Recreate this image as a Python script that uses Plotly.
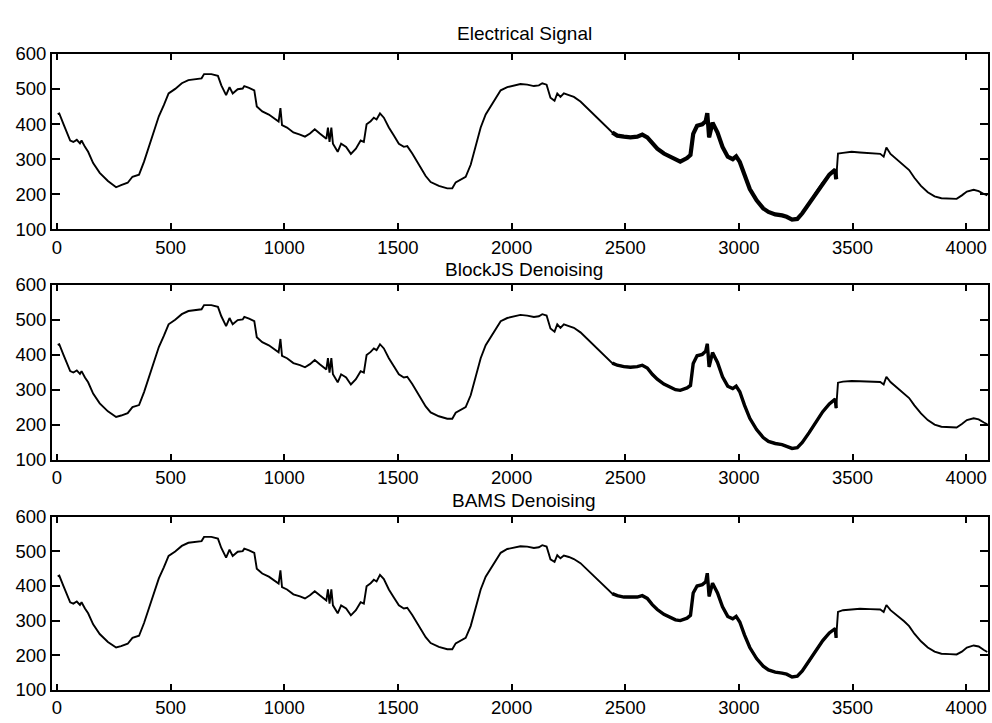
import plotly.graph_objects as go

# ---------------- data ----------------
titles = ["Electrical Signal", "BlockJS Denoising", "BAMS Denoising"]

x_tick_vals = [0, 500, 1000, 1500, 2000, 2500, 3000, 3500, 4000]
y_tick_vals = [100, 200, 300, 400, 500, 600]

sample_x = [
    3, 10, 29, 45, 58, 72, 87, 101, 108, 123, 137, 159, 188, 224, 260, 282, 311, 332, 361, 383,
    405, 426, 448, 470, 491, 520, 549, 578, 607, 636, 647, 679, 708, 723, 744, 759, 773, 795, 817, 824,
    845, 868, 879, 903, 932, 954, 975, 983, 990, 1012, 1040, 1069, 1091, 1113, 1134, 1156, 1185, 1192, 1199, 1207,
    1214, 1235, 1250, 1272, 1293, 1315, 1336, 1350, 1362, 1380, 1394, 1406, 1421, 1438, 1460, 1482, 1504, 1526, 1541, 1563,
    1592, 1622, 1644, 1680, 1717, 1739, 1754, 1776, 1798, 1820, 1842, 1864, 1886, 1908, 1930, 1952, 1981, 2010, 2039, 2069,
    2098, 2120, 2135, 2154, 2171, 2189, 2201, 2215, 2230, 2252, 2274, 2303, 2333, 2362, 2391, 2418, 2443, 2465, 2494, 2523,
    2553, 2575, 2597, 2619, 2641, 2670, 2699, 2721, 2742, 2772, 2787, 2799, 2816, 2839, 2854, 2861, 2869, 2884, 2906, 2928,
    2951, 2973, 2988, 3004, 3025, 3048, 3078, 3107, 3130, 3160, 3190, 3210, 3234, 3257, 3279, 3309, 3339, 3369, 3398, 3424,
    3428, 3436, 3458, 3496, 3533, 3578, 3622, 3637, 3649, 3667, 3697, 3727, 3749, 3772, 3801, 3831, 3861, 3891, 3928, 3958,
    3981, 4003, 4033, 4055, 4078, 4093,
]

electrical = [
    428, 430, 399, 375, 353, 349, 355, 345, 353, 335, 321, 289, 261, 238, 220, 226, 233, 250, 256, 293,
    335, 376, 422, 454, 487, 500, 516, 525, 528, 530, 542, 542, 537, 510, 482, 505, 487, 499, 501, 508,
    503, 496, 450, 436, 427, 418, 407, 445, 397, 390, 376, 370, 364, 373, 385, 373, 358, 390, 349, 390,
    344, 321, 344, 335, 315, 330, 353, 349, 399, 408, 418, 413, 430, 418, 390, 367, 344, 335, 337, 316,
    284, 252, 235, 224, 217, 217, 234, 243, 250, 284, 335, 390, 427, 450, 477, 496, 505, 510, 514, 512,
    508, 510, 516, 512, 475, 466, 487, 477, 487, 482, 477, 464, 445, 427, 408, 390, 376, 367, 364, 362,
    364, 370, 362, 344, 330, 316, 307, 298, 293, 303, 312, 372, 395, 399, 408, 431, 362, 404, 376, 335,
    307, 300, 308, 292, 252, 215, 183, 160, 150, 143, 140, 136, 128, 130, 146, 174, 206, 234, 256, 270,
    243, 316, 318, 321, 319, 318, 315, 307, 333, 315, 298, 281, 269, 247, 224, 206, 194, 189, 189, 187,
    197, 208, 213, 209, 201, 197,
]

blockjs = [
    428, 430, 399, 375, 353, 349, 355, 345, 353, 335, 321, 289, 261, 238, 222, 226, 233, 250, 256, 293,
    335, 376, 422, 454, 487, 500, 516, 525, 528, 530, 542, 542, 537, 510, 482, 505, 487, 499, 501, 508,
    503, 496, 450, 436, 427, 418, 407, 445, 397, 390, 376, 370, 364, 373, 385, 373, 358, 390, 349, 390,
    344, 321, 344, 335, 315, 330, 353, 349, 399, 408, 418, 413, 430, 418, 390, 367, 344, 335, 337, 316,
    284, 252, 235, 224, 217, 217, 234, 243, 250, 284, 335, 390, 427, 450, 477, 496, 505, 510, 514, 512,
    508, 510, 516, 512, 475, 466, 487, 477, 487, 482, 477, 464, 445, 427, 408, 390, 376, 370, 366, 364,
    366, 370, 362, 344, 330, 316, 307, 300, 298, 305, 312, 375, 397, 401, 410, 431, 365, 406, 378, 337,
    310, 303, 310, 294, 255, 218, 186, 163, 152, 146, 143, 139, 132, 134, 149, 177, 209, 237, 259, 273,
    247, 320, 323, 325, 324, 323, 322, 315, 337, 322, 305, 288, 276, 255, 232, 213, 200, 194, 193, 192,
    202, 213, 218, 215, 206, 201,
]

bams = [
    428, 430, 399, 375, 353, 349, 355, 345, 353, 335, 321, 289, 261, 238, 222, 226, 233, 250, 256, 293,
    335, 376, 422, 454, 487, 500, 516, 525, 528, 530, 542, 542, 537, 510, 482, 505, 487, 499, 501, 508,
    503, 496, 450, 436, 427, 418, 407, 445, 397, 390, 376, 370, 364, 373, 385, 373, 358, 390, 349, 390,
    344, 321, 344, 335, 315, 330, 353, 349, 399, 408, 418, 413, 432, 420, 390, 367, 344, 335, 337, 316,
    284, 252, 235, 224, 217, 217, 234, 243, 250, 284, 335, 390, 427, 450, 477, 496, 507, 512, 515, 514,
    510, 512, 518, 514, 477, 470, 489, 480, 488, 484, 478, 466, 447, 429, 410, 392, 378, 372, 368, 367,
    368, 372, 364, 346, 332, 318, 309, 302, 300, 307, 315, 380, 400, 404, 412, 437, 370, 408, 380, 340,
    312, 305, 312, 296, 258, 222, 190, 168, 157, 151, 148, 145, 137, 139, 154, 182, 214, 242, 264, 277,
    250, 325, 330, 333, 334, 333, 332, 325, 345, 330, 315, 298, 284, 262, 240, 222, 210, 204, 203, 202,
    210, 222, 228, 225, 215, 209,
]

series = [electrical, blockjs, bams]
# sample ranges drawn with the heavier (noisy) stroke in each panel
noisy_from = [2430, 2440, 2440]
noisy_to = [3430, 3430, 3430]
noisy_width = [4.2, 3.4, 3.4]

# ---------------- figure ----------------
W, H = 992, 723
panels_px = [(44, 225), (282, 462), (521, 699)]  # top, bottom pixel rows of each plot area
title_px = [23, 266, 504]

fig = go.Figure()
font_family = "Liberation Sans, Arial, Helvetica, sans-serif"
tick_size = 18.5
title_size = 19

for i, ys in enumerate(series):
    xa = "x" if i == 0 else f"x{i+1}"
    ya = "y" if i == 0 else f"y{i+1}"
    fig.add_trace(go.Scatter(x=sample_x, y=ys, mode="lines",
                             line=dict(color="black", width=1.9),
                             xaxis=xa, yaxis=ya, showlegend=False, hoverinfo="skip"))
    nx = [xv for xv in sample_x if noisy_from[i] <= xv <= noisy_to[i]]
    ny = [yv for xv, yv in zip(sample_x, ys) if noisy_from[i] <= xv <= noisy_to[i]]
    fig.add_trace(go.Scatter(x=nx, y=ny, mode="lines",
                             line=dict(color="black", width=noisy_width[i]),
                             xaxis=xa, yaxis=ya, showlegend=False, hoverinfo="skip"))

layout = dict(
    width=W, height=H,
    margin=dict(l=52, r=4, t=0, b=0),
    paper_bgcolor="white", plot_bgcolor="white",
    font=dict(family=font_family, size=tick_size, color="black"),
    showlegend=False,
)

for i, (top, bot) in enumerate(panels_px):
    xk = "xaxis" if i == 0 else f"xaxis{i+1}"
    yk = "yaxis" if i == 0 else f"yaxis{i+1}"
    ya = "y" if i == 0 else f"y{i+1}"
    xa = "x" if i == 0 else f"x{i+1}"
    layout[xk] = dict(
        domain=[0, 1], anchor=ya, range=[-22, 4096],
        tickmode="array", tickvals=x_tick_vals, ticktext=[str(v) for v in x_tick_vals],
        ticks="inside", ticklen=6, tickwidth=1.5, tickcolor="black",
        showline=True, linewidth=2, linecolor="black", mirror="allticks",
        showgrid=False, zeroline=False,
        tickfont=dict(family=font_family, size=tick_size, color="black"),
    )
    layout[yk] = dict(
        domain=[1 - bot / H, 1 - top / H], anchor=xa, range=[100, 600],
        tickmode="array", tickvals=y_tick_vals, ticktext=[str(v) for v in y_tick_vals],
        ticks="inside", ticklen=8, tickwidth=1.5, tickcolor="black",
        showline=True, linewidth=2, linecolor="black", mirror="allticks",
        showgrid=False, zeroline=False,
        tickfont=dict(family=font_family, size=tick_size, color="black"),
    )

layout["annotations"] = [
    dict(text=t, xref="paper", yref="paper", x=(524 - 52) / 936, y=1 - ty / H,
         xanchor="center", yanchor="middle", showarrow=False, borderpad=0,
         font=dict(family=font_family, size=title_size, color="black"))
    for t, ty in zip(titles, title_px)
]

fig.update_layout(**layout)
fig.write_html("out.html")
